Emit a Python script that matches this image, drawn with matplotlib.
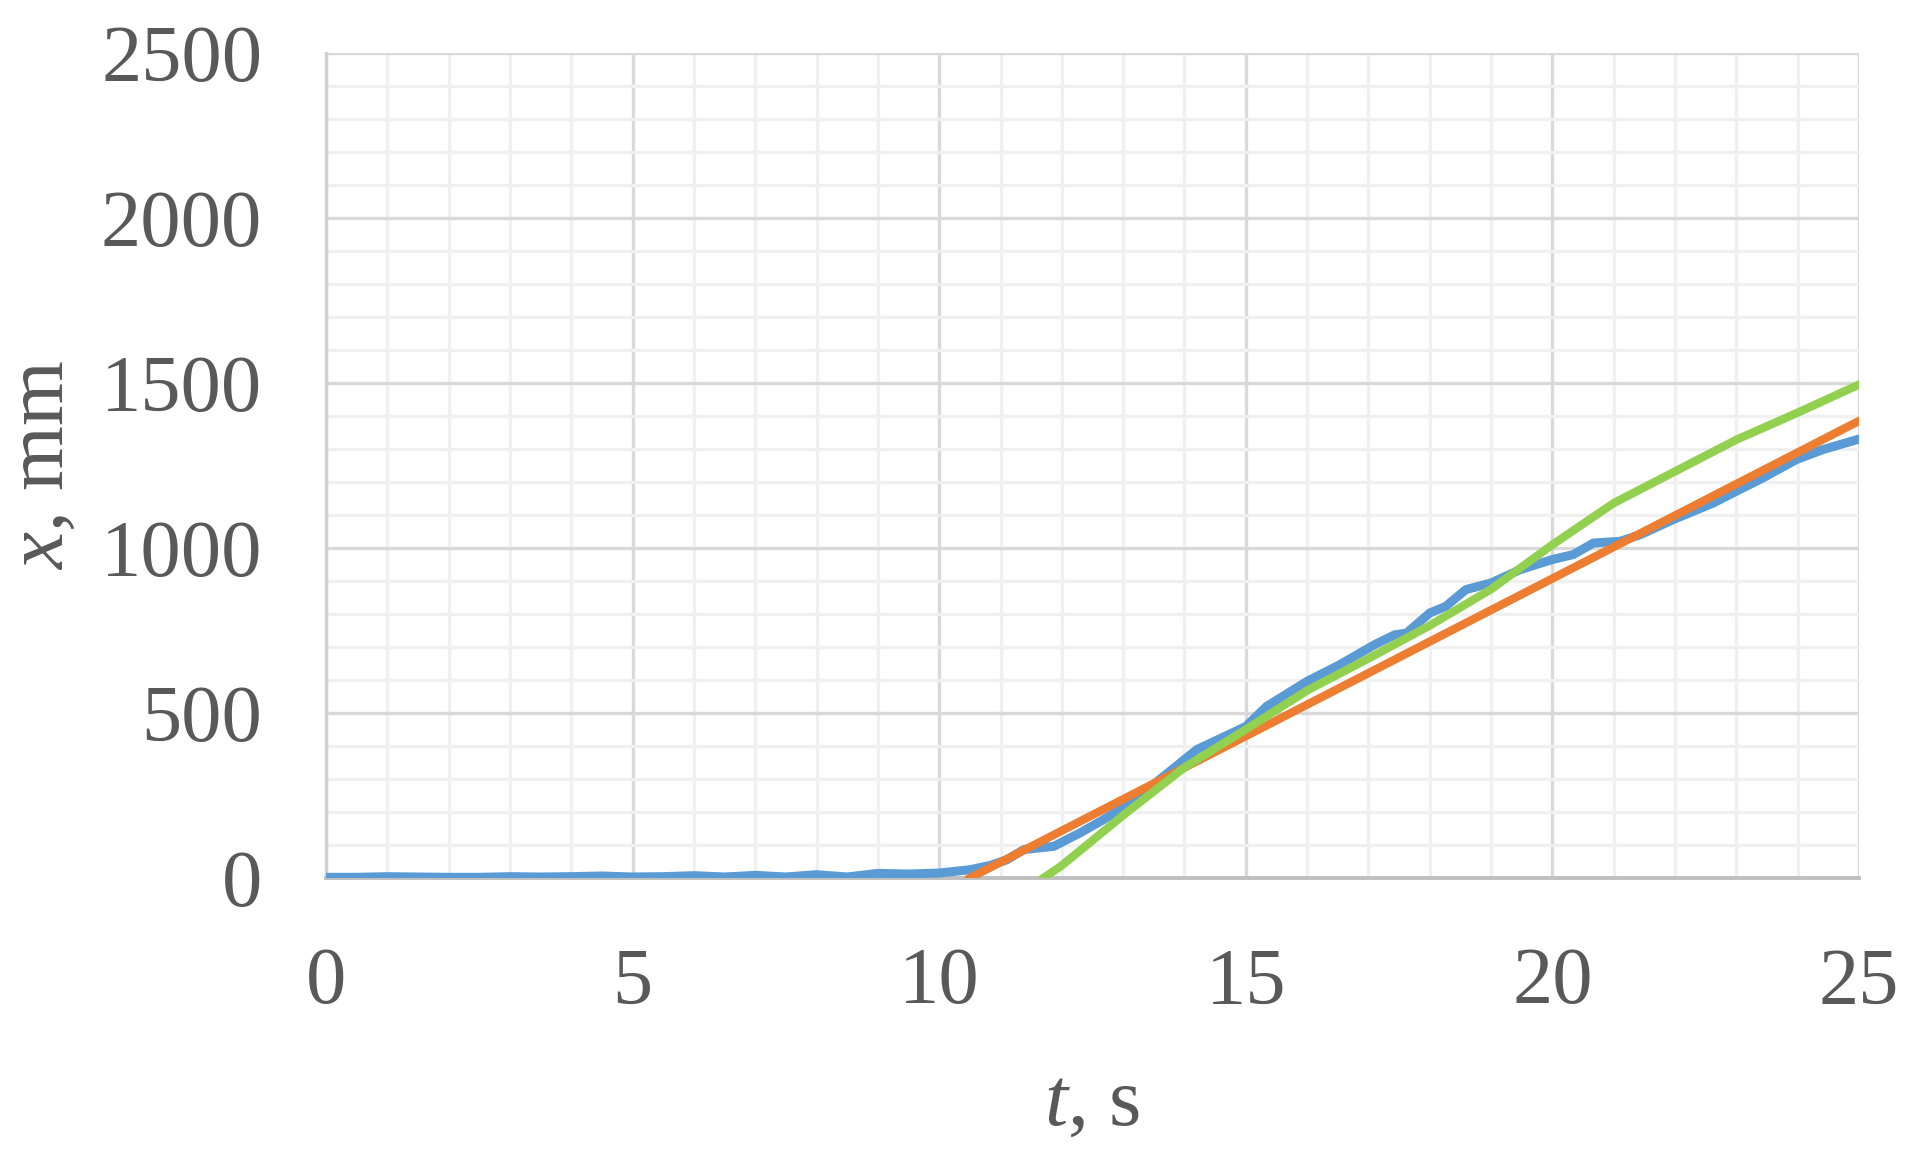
import matplotlib
matplotlib.use("Agg")
import matplotlib.pyplot as plt
from matplotlib.ticker import MultipleLocator

# measured displacement (blue)
t_meas = [0, 0.5, 1, 1.5, 2, 2.5, 3, 3.5, 4, 4.5, 5, 5.5, 6, 6.5, 7, 7.5, 8, 8.5, 9, 9.5,
          10, 10.5, 10.83, 11.1, 11.38, 11.87, 12.3, 12.68, 13.12, 13.66, 14.2, 15, 15.34,
          16, 16.53, 17.1, 17.43, 17.62, 18, 18.26, 18.59, 19, 19.47, 20, 20.34, 20.67,
          21.1, 21.43, 21.97, 22.62, 23, 23.43, 23.98, 24.41, 25]
x_meas = [2, 2, 4, 3, 2, 2, 4, 3, 4, 6, 3, 4, 7, 3, 8, 3, 10, 3, 14, 12,
          15, 25, 38, 55, 86, 96, 137, 177, 228, 308, 389, 459, 520,
          596, 646, 707, 737, 742, 803, 823, 874, 894, 934, 965, 980, 1015,
          1020, 1040, 1086, 1136, 1172, 1212, 1268, 1298, 1330]

# linear fit (orange)
t_lin = [10.5, 25]
x_lin = [0, 1385]

# model curve (green)
t_model = [11.7, 12, 13, 14, 15, 16, 17, 18, 19, 20, 21, 22, 23, 24, 25]
x_model = [0, 38, 190, 335, 450, 568, 665, 765, 875, 1010, 1136, 1232, 1328, 1410, 1495]

plt.rcParams['font.family'] = ['Liberation Serif', 'DejaVu Serif']
plt.rcParams['mathtext.fontset'] = 'custom'
plt.rcParams['mathtext.rm'] = 'Liberation Serif'
plt.rcParams['mathtext.it'] = 'Liberation Serif:italic'
text_color = '#595959'

fig, ax = plt.subplots(figsize=(19.11, 11.51), dpi=100)
fig.subplots_adjust(left=0.1706, right=0.9728, top=0.954, bottom=0.2372)

ax.plot(t_meas, x_meas, color='#5B9BD5', lw=6.5, solid_joinstyle='round', solid_capstyle='round', zorder=3)
ax.plot(t_lin, x_lin, color='#ED7D31', lw=6, zorder=4)
ax.plot(t_model, x_model, color='#92D050', lw=6, solid_joinstyle='round', zorder=5)

ax.set_xlim(0, 25)
ax.set_ylim(0, 2500)
ax.xaxis.set_major_locator(MultipleLocator(5))
ax.xaxis.set_minor_locator(MultipleLocator(1))
ax.yaxis.set_major_locator(MultipleLocator(500))
ax.yaxis.set_minor_locator(MultipleLocator(100))

ax.grid(which='minor', color='#f0f0f0', lw=2.4, zorder=0)
ax.grid(which='major', color='#d9d9d9', lw=2.4, zorder=1)
ax.set_axisbelow(True)

for side in ['top', 'right']:
    ax.spines[side].set_visible(False)
ax.spines['left'].set_color('#d0d0d0')
ax.spines['left'].set_linewidth(2.4)
ax.spines['bottom'].set_color('#bfbfbf')
ax.spines['bottom'].set_linewidth(2.8)

ax.tick_params(which='both', length=0, labelsize=58, labelcolor=text_color)
ax.tick_params(axis='y', pad=46)
ax.tick_params(axis='x', pad=50)

ax.set_xlabel(r'$t$, s', fontsize=60, color=text_color, labelpad=34)
ax.set_ylabel(r'$x$, mm', fontsize=60, color=text_color, labelpad=14)

fig.savefig("out.png")
